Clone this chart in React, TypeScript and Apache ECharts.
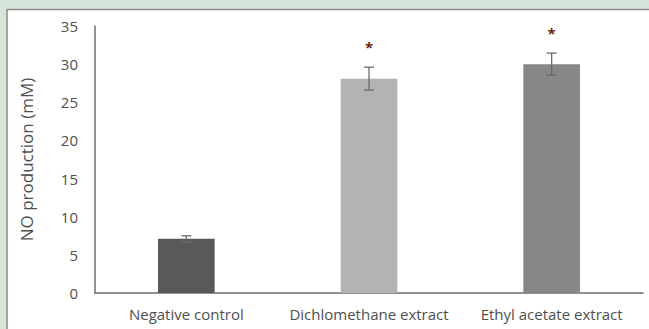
import React, { useEffect, useRef } from "react";
import * as echarts from "echarts";

const categories = ["Negative control", "Dichlomethane extract", "Ethyl acetate extract"];
const values = [7.1, 28.1, 30.0];
const errors = [0.4, 1.5, 1.45];
const significant = [false, true, true];
const barColors = ["#595959", "#b3b3b3", "#878787"];
const yTicks = { min: 0, max: 35, interval: 5 };
const yTitle = "NO production (mM)";

export default function App() {
  const ref = useRef<HTMLDivElement>(null);
  useEffect(() => {
    if (!ref.current) return;
    const chart = echarts.init(ref.current, undefined, { renderer: "svg" });
    const font = "'Open Sans', 'Liberation Sans', sans-serif";
    chart.setOption({
      animation: false,
      backgroundColor: "#d6e4d9",
      graphic: [
        {
          type: "rect",
          z: -10,
          silent: true,
          shape: { x: 7, y: 9.5, width: 660, height: 340 },
          style: { fill: "#ffffff", stroke: "#8c8c8c", lineWidth: 1.5 },
        },
      ],
      grid: { left: 95, right: 6, top: 26, bottom: 36 },
      xAxis: {
        type: "category",
        data: categories,
        axisLine: { lineStyle: { color: "#6e6e6e", width: 1.5 } },
        axisTick: { show: false },
        axisLabel: { color: "#4f4f4f", fontSize: 15, fontFamily: font, margin: 13, interval: 0 },
      },
      yAxis: {
        type: "value",
        min: yTicks.min,
        max: yTicks.max,
        interval: yTicks.interval,
        name: yTitle,
        nameLocation: "middle",
        nameGap: 60,
        nameTextStyle: { color: "#4f4f4f", fontSize: 17, fontFamily: font },
        axisLine: { show: true, lineStyle: { color: "#6e6e6e", width: 1.5 } },
        axisTick: { show: false },
        splitLine: { show: false },
        axisLabel: { color: "#4f4f4f", fontSize: 15, fontFamily: font, margin: 17 },
      },
      series: [
        {
          type: "bar",
          barWidth: "31%",
          data: values.map((v, i) => ({ value: v, itemStyle: { color: barColors[i] } })),
        },
        {
          type: "custom",
          z: 5,
          data: values.map((v, i) => [i, v - errors[i], v + errors[i], significant[i] ? 1 : 0]),
          renderItem: (params: any, api: any) => {
            const x = api.value(0);
            const lo = api.coord([x, api.value(1)]);
            const hi = api.coord([x, api.value(2)]);
            const cap = 5;
            const st = { stroke: "#6b6b6b", lineWidth: 1.3 };
            const children: any[] = [
              { type: "line", shape: { x1: hi[0], y1: lo[1], x2: hi[0], y2: hi[1] }, style: st },
              { type: "line", shape: { x1: hi[0] - cap, y1: hi[1], x2: hi[0] + cap, y2: hi[1] }, style: st },
              { type: "line", shape: { x1: lo[0] - cap, y1: lo[1], x2: lo[0] + cap, y2: lo[1] }, style: st },
            ];
            if (api.value(3) === 1) {
              children.push({
                type: "text",
                style: {
                  text: "*",
                  x: hi[0],
                  y: hi[1] - 20,
                  align: "center",
                  verticalAlign: "middle",
                  fill: "#6b1f12",
                  font: `bold 15px ${font}`,
                },
              });
            }
            return { type: "group", children };
          },
        },
      ],
    });
    return () => chart.dispose();
  }, []);
  return (
    <div
      ref={ref}
      style={{ position: "absolute", left: 0, top: 0, width: 649, height: 329 }}
    />
  );
}
